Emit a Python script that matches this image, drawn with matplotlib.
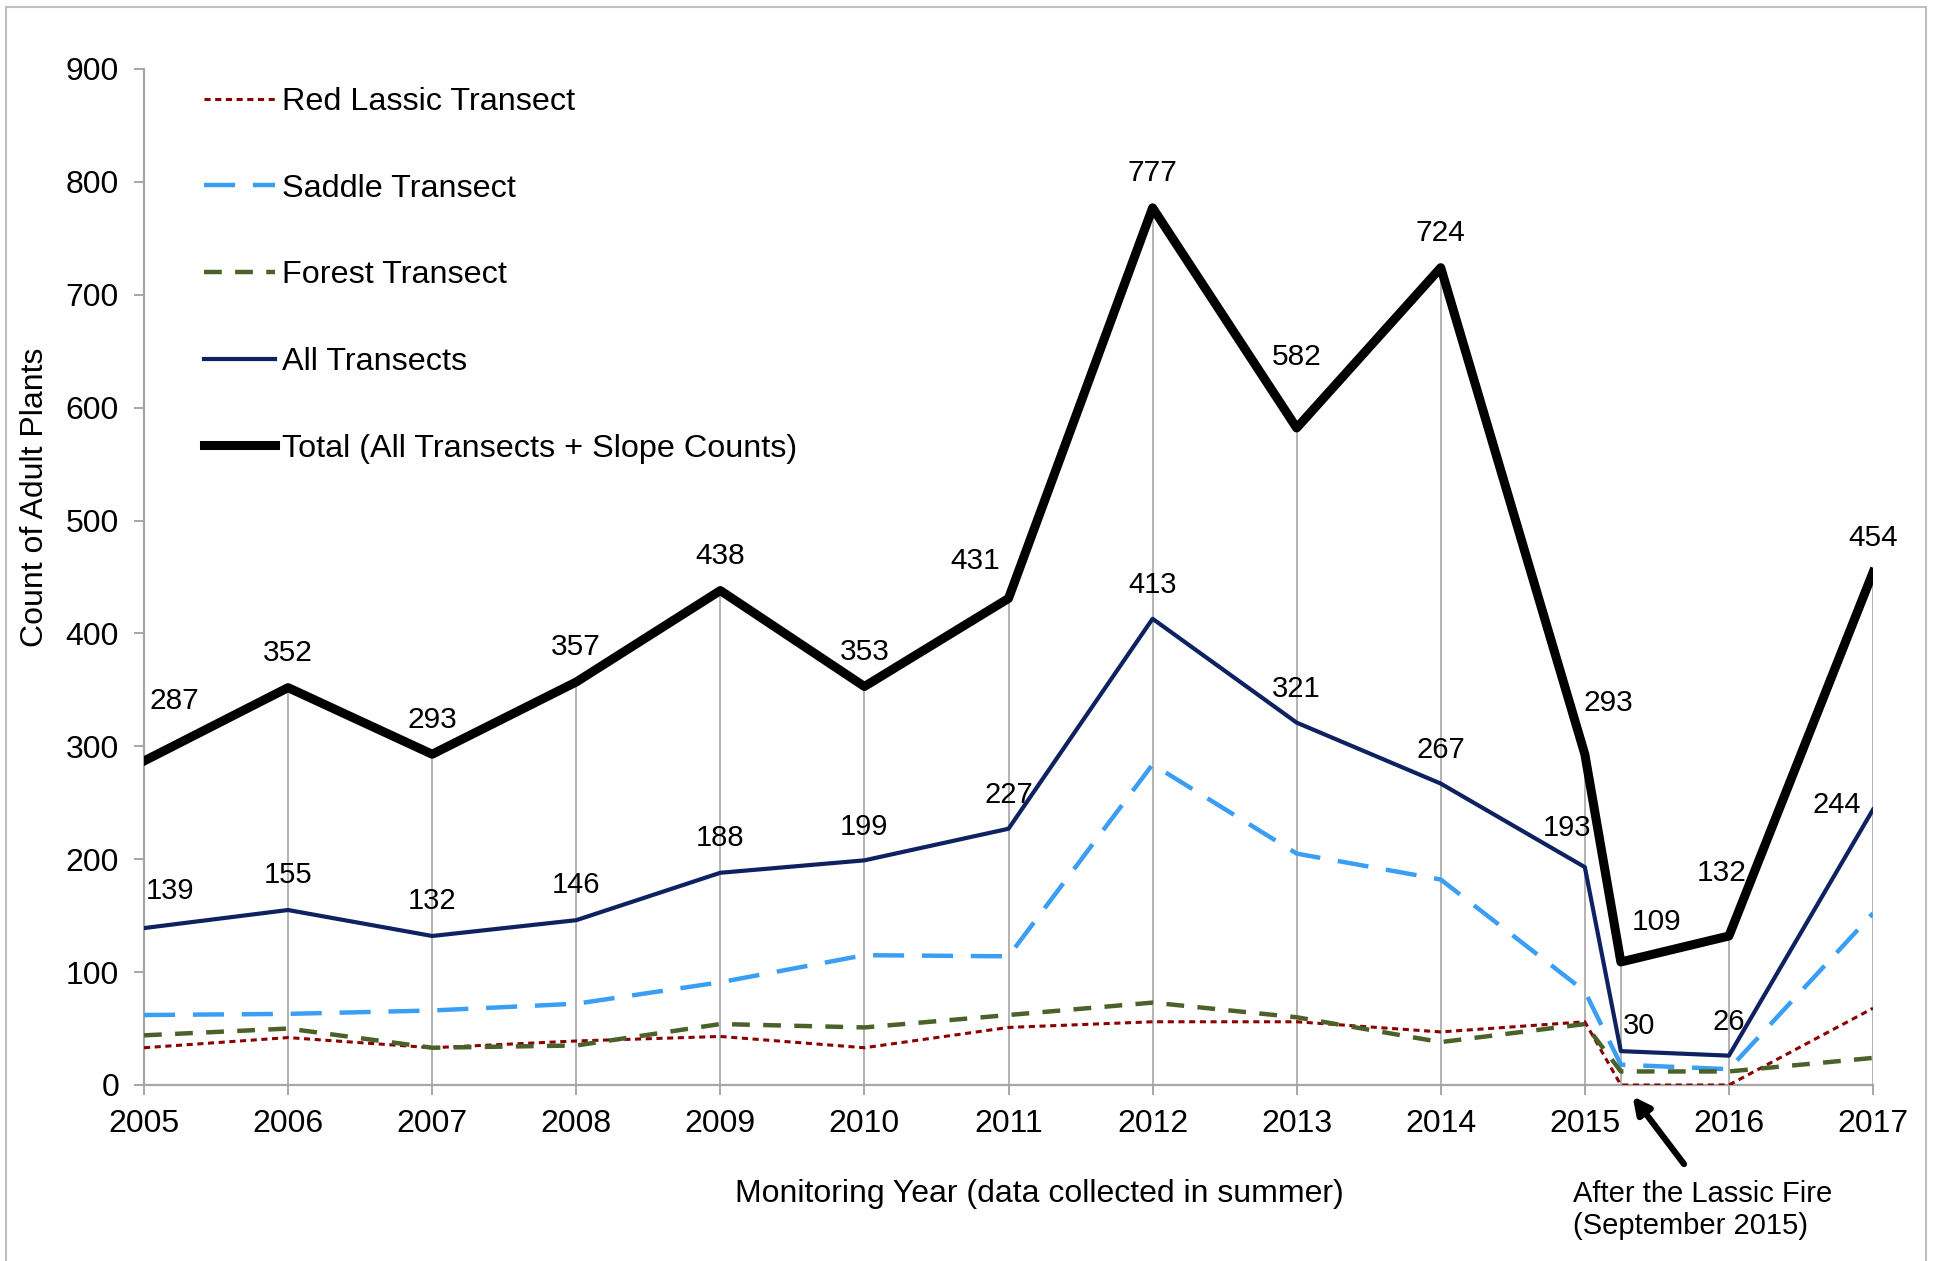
import matplotlib.pyplot as plt
from matplotlib.patches import Rectangle

plt.rcParams['font.family'] = ['Liberation Sans', 'DejaVu Sans']

# Data (the extra point after 2015 is the count made after the Lassic Fire)
years = [2005, 2006, 2007, 2008, 2009, 2010, 2011, 2012, 2013, 2014, 2015, 2015.25, 2016, 2017]
year_ticks = [2005, 2006, 2007, 2008, 2009, 2010, 2011, 2012, 2013, 2014, 2015, 2016, 2017]
red_lassic = [33, 42, 33, 39, 43, 33, 51, 56, 56, 47, 56, 0, 0, 68]
saddle = [62, 63, 66, 72, 91, 115, 114, 284, 205, 182, 83, 18, 14, 152]
forest = [44, 50, 33, 35, 54, 51, 62, 73, 60, 38, 54, 12, 12, 24]
all_transects = [139, 155, 132, 146, 188, 199, 227, 413, 321, 267, 193, 30, 26, 244]
total = [287, 352, 293, 357, 438, 353, 431, 777, 582, 724, 293, 109, 132, 454]

# label offsets in points (dx, dy)
total_off = [(22, 43), (0, 25), (0, 25), (0, 25), (0, 25), (0, 25), (-24, 27), (0, 25),
             (0, 51), (0, 25), (17, 37), (26, 29), (-5, 45), (0, 25)]
all_off = [(19, 27), (0, 25), (0, 25), (0, 25), (0, 25), (0, 24), (0, 24), (0, 24),
           (0, 24), (0, 24), (-13, 28), (13, 18), (0, 24), (-26, 3)]

W, H = 1935, 1261
fig = plt.figure(figsize=(W / 100, H / 100), dpi=100)
ax = fig.add_axes([144 / W, 1 - 1085 / H, (1873 - 144) / W, (1085 - 69) / H])

grey = '#A6A6A6'
# drop lines from each point to the axis
ax.vlines(years, 0, total, color=grey, lw=1.2, zorder=1)

ax.plot(years, red_lassic, color='#8B0000', lw=2.2, ls=(0, (2, 1.5)), label='Red Lassic Transect', zorder=3)
ax.plot(years, saddle, color='#3A9EF5', lw=3.2, ls=(0, (7, 4)), label='Saddle Transect', zorder=3)
ax.plot(years, forest, color='#4A6129', lw=3.2, ls=(0, (4, 3)), label='Forest Transect', zorder=3)
ax.plot(years, all_transects, color='#0E2161', lw=3.0, label='All Transects', zorder=4)
ax.plot(years, total, color='black', lw=6.5, label='Total (All Transects + Slope Counts)', zorder=5)

for x, v, (dx, dy) in zip(years, total, total_off):
    ax.annotate(str(v), (x, v), xytext=(dx, dy), textcoords='offset points',
                ha='center', va='center', fontsize=21.5)
for x, v, (dx, dy) in zip(years, all_transects, all_off):
    ax.annotate(str(v), (x, v), xytext=(dx, dy), textcoords='offset points',
                ha='center', va='center', fontsize=21)

ax.set_xlim(2005, 2017)
ax.set_ylim(0, 900)
ax.set_xticks(year_ticks)
ax.set_yticks(range(0, 901, 100))
for s in ['top', 'right']:
    ax.spines[s].set_visible(False)
for s in ['left', 'bottom']:
    ax.spines[s].set_color(grey)
    ax.spines[s].set_linewidth(1.6)
ax.tick_params(axis='both', colors=grey, labelcolor='black', labelsize=23, length=7, width=1.4)
ax.tick_params(axis='x', pad=10)
ax.tick_params(axis='y', pad=11)

leg = ax.legend(loc='upper left', bbox_to_anchor=(204 / W, 1 - 87 / H), bbox_transform=fig.transFigure,
                frameon=False, fontsize=23.3, handlelength=2.2, handletextpad=0.2,
                labelspacing=1.75, borderpad=0, borderaxespad=0)

fig.text(35 / W, 1 - 497 / H, 'Count of Adult Plants', rotation=90, ha='center', va='center', fontsize=23)
fig.text(1039 / W, 1 - 1194 / H, 'Monitoring Year (data collected in summer)', ha='center', va='center', fontsize=23)
fig.text(1573 / W, 1 - 1210 / H, 'After the Lassic Fire\n(September 2015)', ha='left', va='center',
         fontsize=21, linespacing=1.2)

ax.annotate('', xy=(2015.32, -8), xytext=(2015.7, -72), annotation_clip=False,
            arrowprops=dict(arrowstyle='-|>,head_length=1.0,head_width=0.5', color='black', lw=4.5))

fig.patches.append(Rectangle((6 / W, -0.05), (1926 - 6) / W, 1.05 - 7 / H, transform=fig.transFigure,
                             fill=False, edgecolor='#BFBFBF', lw=1.5))

fig.savefig('out.png', dpi=100)
